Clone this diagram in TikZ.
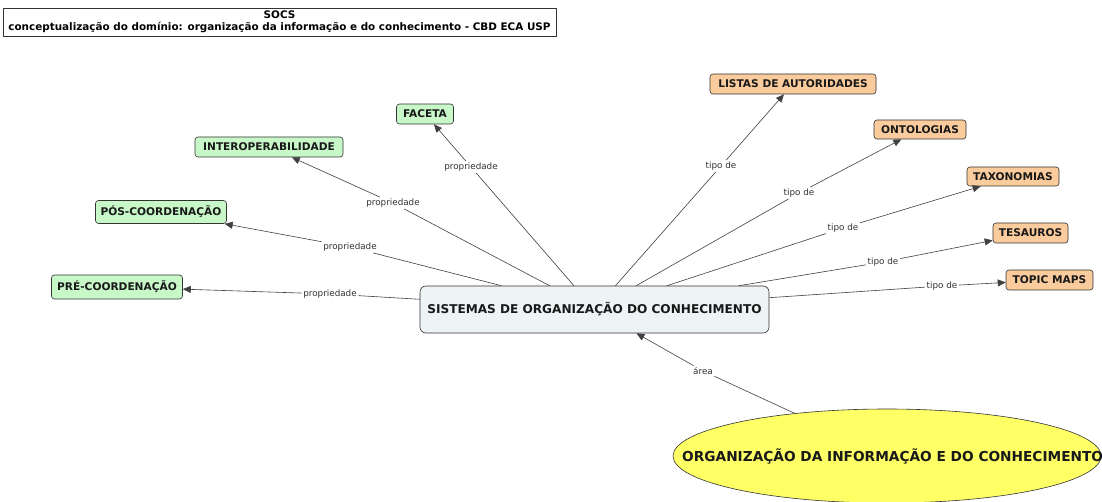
\documentclass[tikz,border=0pt]{standalone}
\usepackage{fontspec}
\setmainfont{DejaVu Sans}
\usetikzlibrary{shapes.geometric,arrows.meta}
\definecolor{cgreen}{HTML}{C8F7C8}
\definecolor{corange}{HTML}{FACB9C}
\definecolor{cgrey}{HTML}{EEF3F5}
\definecolor{cyellow}{HTML}{FFFF66}
\begin{document}
\begin{tikzpicture}[x=1pt,y=-1pt,
  concept/.style={draw=black!80, rounded corners=3pt, line width=0.6pt, inner sep=0pt,
    font=\bfseries\fontsize{10.6}{12}\selectfont, text=black!90},
  propbox/.style={concept, fill=cgreen},
  kindbox/.style={concept, fill=corange},
  lbl/.style={font=\fontsize{8.8}{10}\selectfont, inner sep=1.5pt, text=black!80},
  link/.style={draw=black!75, line width=0.6pt},
  arr/.style={link, -{Triangle[length=8pt,width=7pt]}}
]
\useasboundingbox (0,0) rectangle (1102,502);
\fill[white] (0,0) rectangle (1102,502);
\clip (0,0) rectangle (1102,502);

% title
\node[draw=black!80, line width=0.6pt, minimum width=553pt, minimum height=28pt, inner sep=0pt,
  align=center, font=\bfseries\fontsize{10.4}{12.5}\selectfont] (title) at (279.5,22)
  {SOCS\\conceptualização do domínio: organização da informação e do conhecimento - CBD ECA USP};

% concepts
\node[concept, fill=cgrey, rounded corners=6pt, minimum width=349pt, minimum height=47pt,
  font=\bfseries\fontsize{12.1}{14}\selectfont] (sist) at (594.5,309.5) {SISTEMAS DE ORGANIZAÇÃO DO CONHECIMENTO};

\node[propbox, minimum width=57pt, minimum height=20pt] (facet) at (425,114) {FACETA};
\node[propbox, minimum width=148pt, minimum height=20pt] (inter) at (269,147) {INTEROPERABILIDADE};
\node[propbox, minimum width=131pt, minimum height=23pt] (pos) at (161,212) {PÓS-COORDENAÇÃO};
\node[propbox, minimum width=131pt, minimum height=24pt] (pre) at (117,287) {PRÉ-COORDENAÇÃO};

\node[kindbox, minimum width=166pt, minimum height=20pt] (listas) at (793,84) {LISTAS DE AUTORIDADES};
\node[kindbox, minimum width=92pt, minimum height=19pt] (onto) at (920,129.5) {ONTOLOGIAS};
\node[kindbox, minimum width=92pt, minimum height=19pt] (taxo) at (1013,176.5) {TAXONOMIAS};
\node[kindbox, minimum width=75pt, minimum height=20pt] (tes) at (1030.5,233) {TESAUROS};
\node[kindbox, minimum width=87pt, minimum height=20pt] (topic) at (1049.5,280) {TOPIC MAPS};

\node[ellipse, draw=black!80, line width=0.6pt, fill=cyellow, inner sep=0pt,
  minimum width=428pt, minimum height=94pt] (oic) at (887,456) {};
\node[inner sep=0pt, font=\bfseries\fontsize{13.7}{16}\selectfont, text=black!90, anchor=west]
  (oictext) at (682,456) {ORGANIZAÇÃO DA INFORMAÇÃO E DO CONHECIMENTO};

% link labels
\node[lbl] (lpre) at (330,294) {propriedade};
\node[lbl] (lpos) at (350,247) {propriedade};
\node[lbl] (linter) at (393,203) {propriedade};
\node[lbl] (lfacet) at (471,167) {propriedade};
\node[lbl] (llistas) at (721,166) {tipo de};
\node[lbl] (lonto) at (799,193) {tipo de};
\node[lbl] (ltaxo) at (843,228) {tipo de};
\node[lbl] (ltes) at (883,262) {tipo de};
\node[lbl] (ltopic) at (942,286) {tipo de};
\node[lbl] (larea) at (703,371) {área};

% connectors
\foreach \l/\t in {lpre/pre, lpos/pos, linter/inter, lfacet/facet,
                   llistas/listas, lonto/onto, ltaxo/taxo, ltes/tes, ltopic/topic}{
  \draw[link] (sist) -- (\l);
  \draw[arr] (\l) -- (\t);
}
\draw[link] (oic) -- (larea);
\draw[arr] (larea) -- (sist);
\end{tikzpicture}
\end{document}
